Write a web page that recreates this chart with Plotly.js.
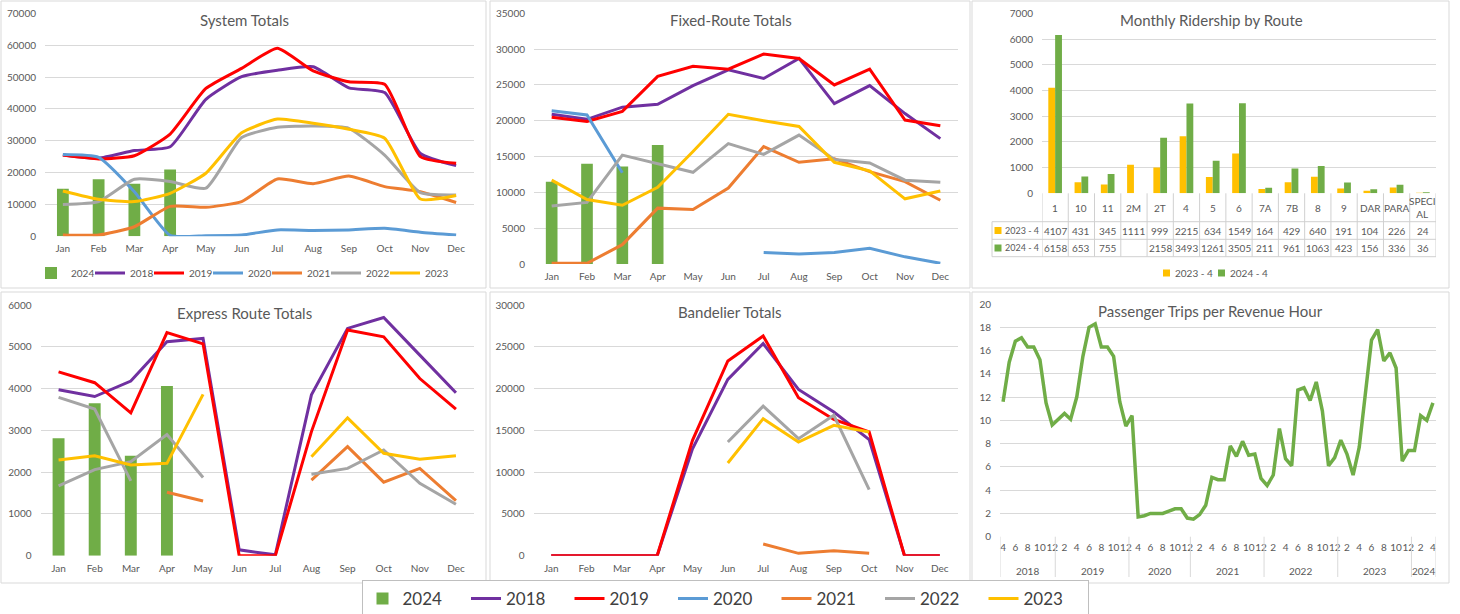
<!DOCTYPE html>
<html><head><meta charset="utf-8">
<script src="https://cdn.plot.ly/plotly-3.0.1.min.js"></script>
<style>html,body{margin:0;padding:0;background:#fff;}#chart{width:1460px;height:614px;}</style>
</head><body><div id="chart"></div>
<script>
// ---------- DATA ----------
const months = ['Jan','Feb','Mar','Apr','May','Jun','Jul','Aug','Sep','Oct','Nov','Dec'];
const months2024 = ['Jan','Feb','Mar','Apr'];

// System Totals
const sys2024 = [14900,17900,16500,21000];
const sys2018 = [25500,24500,26900,28100,43000,50100,52100,53200,46600,45100,26000,22200];
const sys2019 = [25500,24300,25300,32100,46400,52700,59000,51900,48500,47700,25000,22900];
const sys2020 = [25700,24800,14000,300,200,400,2000,1800,2000,2500,1300,400];
const sys2021 = [400,400,3000,9400,9100,10900,18000,16500,18900,15600,14000,10600];
const sys2022 = [10000,10900,17900,17200,15100,31000,34200,34600,33900,25500,13700,13000];
const sys2023 = [14200,11600,10900,13500,19800,32500,36800,35500,33600,30800,11700,12800];

// Fixed-Route Totals
const fix2024 = [11500,14000,13600,16600];
const fix2018 = [20900,20200,21900,22300,24900,27100,25900,28700,22400,24900,21000,17500];
const fix2019 = [20500,19900,21300,26200,27600,27200,29300,28700,25000,27200,20100,19300];
const fix2020 = [21400,20800,12750,null,null,null,1600,1400,1600,2200,1000,100];
const fix2021 = [100,100,2700,7800,7600,10600,16400,14200,14700,12900,11500,8900];
const fix2022 = [8100,8600,15200,14000,12800,16800,15300,18000,14600,14100,11700,11400];
const fix2023 = [11700,9000,8200,10700,15700,20900,20000,19200,14200,13000,9100,10200];

// Express Route Totals
const exp2024 = [2810,3650,2390,4060];
const exp2018 = [3970,3810,4180,5120,5200,140,20,3850,5440,5700,4800,3900];
const exp2019 = [4400,4140,3420,5340,5070,0,0,2970,5400,5240,4240,3510];
const exp2021 = [null,null,null,1520,1310,null,null,1810,2610,1760,2090,1320];
const exp2022 = [1670,2060,2250,2900,1870,null,null,1950,2090,2530,1730,1230];
const expGrayExtra = [3790,3510,1790,null,null,null,null,null,null,null,null,null];
const exp2023 = [2290,2390,2170,2210,3860,null,null,2370,3300,2450,2310,2390];

// Bandelier Totals
const band2018 = [0,0,0,0,12800,21100,25400,19900,17200,13900,0,0];
const band2019 = [0,0,0,0,13800,23300,26300,18900,16300,14800,0,0];
const band2021 = [null,null,null,null,null,null,1400,280,600,280,null,null];
const band2022 = [null,null,null,null,null,13600,17900,14000,16800,7900,null,null];
const band2023 = [null,null,null,null,null,11100,16400,13600,15600,14800,null,null];

// Monthly Ridership by Route
const routes = ['1','10','11','2M','2T','4','5','6','7A','7B','8','9','DAR','PARA','SPECIAL'];
const route2023_4 = [4107,431,345,1111,999,2215,634,1549,164,429,640,191,104,226,24];
const route2024_4 = [6158,653,755,null,2158,3493,1261,3505,211,961,1063,423,156,336,36];
const routeSeriesNames = ['2023 - 4','2024 - 4'];

// Passenger Trips per Revenue Hour
const ptrhYears = ['2018','2018','2018','2018','2018','2018','2018','2018','2018',
  '2019','2019','2019','2019','2019','2019','2019','2019','2019','2019','2019','2019',
  '2020','2020','2020','2020','2020','2020','2020','2020','2020','2020',
  '2021','2021','2021','2021','2021','2021','2021','2021','2021','2021','2021','2021',
  '2022','2022','2022','2022','2022','2022','2022','2022','2022','2022','2022','2022',
  '2023','2023','2023','2023','2023','2023','2023','2023','2023','2023','2023','2023',
  '2024','2024','2024','2024'];
const ptrhMonths = [4,5,6,7,8,9,10,11,12,
  1,2,3,4,5,6,7,8,9,10,11,12,
  3,4,5,6,7,8,9,10,11,12,
  1,2,3,4,5,6,7,8,9,10,11,12,
  1,2,3,4,5,6,7,8,9,10,11,12,
  1,2,3,4,5,6,7,8,9,10,11,12,
  1,2,3,4];
const ptrhValues = [11.6,15.0,16.8,17.1,16.3,16.3,15.2,11.5,9.6,
  10.1,10.6,10.1,12.0,15.5,18.0,18.3,16.3,16.3,15.5,11.6,9.5,
  10.4,1.7,1.8,2.0,2.0,2.0,2.2,2.4,2.4,1.6,
  1.5,1.9,2.7,5.1,4.9,4.9,7.8,6.9,8.2,7.0,7.1,5.0,
  4.4,5.3,9.3,6.7,6.1,12.6,12.8,11.7,13.3,10.8,6.1,6.8,
  8.3,7.1,5.3,7.7,12.3,16.9,17.8,15.1,15.8,14.5,6.5,7.4,
  7.4,10.4,10.0,11.5];

// ---------- STYLE ----------
const W = 1460, H = 614;
const fx = p => p / W, fy = p => 1 - p / H;
const FONT = 'Lato, "Open Sans", sans-serif';
const TXT = '#595959';
const GRID = '#D9D9D9';
const COL = {'2024':'#70AD47','2018':'#7030A0','2019':'#FF0000','2020':'#5B9BD5','2021':'#ED7D31','2022':'#A5A5A5','2023':'#FFC000'};

const traces = [];
function addPanel(n, bar, lines, legendId, showLeg, spline) {
  const xa = n === 1 ? 'x' : 'x' + n, ya = n === 1 ? 'y' : 'y' + n;
  if (bar) traces.push({type:'bar', x: months2024, y: bar, xaxis: xa, yaxis: ya, width: 0.33,
    marker:{color: COL['2024']}, name:'2024', legend: legendId, showlegend: showLeg, hoverinfo:'y'});
  lines.forEach(l => {
    traces.push({type:'scatter', mode:'lines', x: months, y: l.y, xaxis: xa, yaxis: ya,
      line:{color: COL[l.c], width: 3, shape: spline ? 'spline' : 'linear', smoothing: 0.5},
      name: l.name, legend: legendId, showlegend: showLeg, hoverinfo:'y'});
  });
}
addPanel(1, sys2024, [
  {name:'2018', c:'2018', y: sys2018},{name:'2019', c:'2019', y: sys2019},{name:'2020', c:'2020', y: sys2020},
  {name:'2021', c:'2021', y: sys2021},{name:'2022', c:'2022', y: sys2022},{name:'2023', c:'2023', y: sys2023}], 'legend3', true, true);
// invisible spacer entry so the last legend text of panel 1 is not clipped
traces.push({type:'scatter', mode:'lines', x:[null], y:[null], xaxis:'x', yaxis:'y', name:' ',
  line:{color:'rgba(0,0,0,0)', width:0}, legend:'legend3', showlegend:true, hoverinfo:'skip'});
addPanel(2, fix2024, [
  {name:'2018', c:'2018', y: fix2018},{name:'2019', c:'2019', y: fix2019},{name:'2020', c:'2020', y: fix2020},
  {name:'2021', c:'2021', y: fix2021},{name:'2022', c:'2022', y: fix2022},{name:'2023', c:'2023', y: fix2023}], 'legend', true, false);
addPanel(4, exp2024, [
  {name:'2018', c:'2018', y: exp2018},{name:'2019', c:'2019', y: exp2019},
  {name:'2021', c:'2021', y: exp2021},{name:'2022', c:'2022', y: exp2022},{name:'2022', c:'2022', y: expGrayExtra},
  {name:'2023', c:'2023', y: exp2023}], 'legend', false, false);
addPanel(5, null, [
  {name:'2018', c:'2018', y: band2018},{name:'2019', c:'2019', y: band2019},
  {name:'2021', c:'2021', y: band2021},{name:'2022', c:'2022', y: band2022},{name:'2023', c:'2023', y: band2023}], 'legend', false, false);

// Panel 3 bars (index positions on a category axis)
const routeIdx = routes.map((r, i) => i);
traces.push({type:'bar', x: routeIdx, y: route2023_4, xaxis:'x3', yaxis:'y3', width:0.26, offset:-0.26,
  marker:{color: COL['2023']}, name: routeSeriesNames[0], showlegend:false, hoverinfo:'y'});
traces.push({type:'bar', x: routeIdx, y: route2024_4, xaxis:'x3', yaxis:'y3', width:0.26, offset:0,
  marker:{color: COL['2024']}, name: routeSeriesNames[1], showlegend:false, hoverinfo:'y'});

// Panel 6 line
const ptrhX = ptrhValues.map((v, i) => i);
traces.push({type:'scatter', mode:'lines', x: ptrhX, y: ptrhValues, xaxis:'x6', yaxis:'y6',
  line:{color:'#70AD47', width:3.5}, showlegend:false, hoverinfo:'y'});

// ---------- AXES ----------
function xCat(l, r, anchor) {
  return {domain:[fx(l), fx(r)], anchor, type:'category', categoryorder:'array', categoryarray: months,
    range:[-0.5, 11.5], showgrid:false, zeroline:false, showline:false, ticks:'',
    tickfont:{size:10, color:TXT, family:FONT}, ticklabelstandoff:5, fixedrange:true};
}
function yLin(t, b, anchor, max, dtick) {
  return {domain:[fy(b), fy(t)], anchor, range:[0, max], dtick, tick0:0, tickformat:'d', showgrid:true, gridcolor:GRID, gridwidth:1,
    zeroline:false, showline:false, ticks:'', tickfont:{size:10, color:TXT, family:FONT},
    ticklabelstandoff:8, fixedrange:true};
}

const layout = {
  width: W, height: H, margin:{l:0, r:0, t:0, b:0, autoexpand:false},
  paper_bgcolor:'#fff', plot_bgcolor:'rgba(0,0,0,0)', barmode:'overlay',
  font:{family:FONT, color:TXT},
  xaxis: xCat(45, 474, 'y'),   yaxis: yLin(13.3, 236.3, 'x', 70000, 10000),
  xaxis2: xCat(534, 958, 'y2'), yaxis2: yLin(13.3, 264, 'x2', 35000, 5000),
  xaxis3: {domain:[fx(1042), fx(1436)], anchor:'y3', type:'linear',
    range:[-0.5, routes.length - 0.5], showgrid:false, zeroline:false, showline:false, ticks:'', showticklabels:false, fixedrange:true},
  yaxis3: yLin(13.3, 193.3, 'x3', 7000, 1000),
  xaxis4: xCat(40.5, 474, 'y4'), yaxis4: yLin(305, 555.7, 'x4', 6000, 1000),
  xaxis5: xCat(533.5, 957.5, 'y5'), yaxis5: yLin(305, 555.7, 'x5', 30000, 5000),
  xaxis6: {domain:[fx(1000), fx(1436)], anchor:'y6', range:[-0.5, ptrhValues.length - 0.5],
    tickvals: ptrhX.filter(i => i % 2 === 0), ticktext: ptrhX.filter(i => i % 2 === 0).map(i => String(ptrhMonths[i])),
    tickangle:0, showgrid:false, zeroline:false, showline:false, ticks:'', tickfont:{size:10, color:TXT, family:FONT},
    ticklabelstandoff:3, fixedrange:true},
  yaxis6: yLin(304, 536.7, 'x6', 20, 2),
  legend: {orientation:'h', x: fx(725), xanchor:'center', y: fy(599), yanchor:'middle',
    font:{size:17, color:'#404040', family:FONT}, bgcolor:'#fff', bordercolor:'#BFBFBF', borderwidth:1,
    entrywidth:58.5, traceorder:'normal'},
  legend3: {orientation:'h', x: fx(31), xanchor:'left', y: fy(273), yanchor:'middle',
    font:{size:10, color:TXT, family:FONT}, bgcolor:'rgba(0,0,0,0)', entrywidth:14, traceorder:'normal'},
  annotations: [], shapes: []
};

// Titles
[['System Totals',244,20],['Fixed-Route Totals',731,20],['Monthly Ridership by Route',1211,20],
 ['Express Route Totals',244,313],['Bandelier Totals',730,312],['Passenger Trips per Revenue Hour',1210,311]]
.forEach(t => layout.annotations.push({text:t[0], xref:'paper', yref:'paper', x:fx(t[1]), y:fy(t[2]),
  xanchor:'center', yanchor:'middle', showarrow:false, font:{size:15, color:TXT, family:FONT}}));

// Panel borders
[[1,1,486,288],[490,1,970,288],[972,1,1449,288],[1,292,486,583],[490,292,970,583],[972,292,1449,583]]
.forEach(b => layout.shapes.push({type:'rect', xref:'paper', yref:'paper', x0:fx(b[0]), x1:fx(b[2]), y0:fy(b[1]), y1:fy(b[3]),
  line:{color:'#D9D9D9', width:1}, fillcolor:'rgba(0,0,0,0)', layer:'below'}));

// Data table under panel 3
const tRows = [193.3, 221.7, 239.3, 256.7];
const tLeft = 992;
const tLine = {color:'#D0D0D0', width:1};
tRows.slice(1).forEach(r => layout.shapes.push({type:'line', xref:'paper', yref:'paper', x0:fx(tLeft), x1:fx(1436), y0:fy(r), y1:fy(r), line:tLine}));
for (let k = 0; k <= routes.length; k++) {
  layout.shapes.push({type:'line', xref:'x3', yref:'paper', x0:k - 0.5, x1:k - 0.5, y0:fy(tRows[0]), y1:fy(tRows[3]), line:tLine});
}
layout.shapes.push({type:'line', xref:'paper', yref:'paper', x0:fx(tLeft), x1:fx(tLeft), y0:fy(tRows[1]), y1:fy(tRows[3]), line:tLine});
routes.forEach((r, i) => {
  const disp = r.length > 5 ? r.slice(0,5) + '<br>' + r.slice(5) : r;
  layout.annotations.push({text:disp, xref:'x3', yref:'paper', x:i, y:fy(207.5), xanchor:'center', yanchor:'middle',
    showarrow:false, font:{size:10, color:TXT, family:FONT}});
  [[route2023_4, 230.5],[route2024_4, 248]].forEach(rw => {
    if (rw[0][i] !== null) layout.annotations.push({text:String(rw[0][i]), xref:'x3', yref:'paper', x:i, y:fy(rw[1]),
      xanchor:'center', yanchor:'middle', showarrow:false, font:{size:10, color:TXT, family:FONT}});
  });
});
[[routeSeriesNames[0], COL['2023'], 230.5],[routeSeriesNames[1], COL['2024'], 248]].forEach(rw => {
  layout.shapes.push({type:'rect', xref:'paper', yref:'paper', x0:fx(994.5), x1:fx(1001.5), y0:fy(rw[2]-3.5), y1:fy(rw[2]+3.5),
    fillcolor:rw[1], line:{width:0}});
  layout.annotations.push({text:rw[0], xref:'paper', yref:'paper', x:fx(1003), y:fy(rw[2]), xanchor:'left', yanchor:'middle',
    showarrow:false, font:{size:9, color:TXT, family:FONT}});
});
// Panel 3 legend (small square keys)
[[routeSeriesNames[0], COL['2023'], 1163],[routeSeriesNames[1], COL['2024'], 1218]].forEach(lg => {
  layout.shapes.push({type:'rect', xref:'paper', yref:'paper', x0:fx(lg[2]), x1:fx(lg[2]+7), y0:fy(276.5), y1:fy(269.5),
    fillcolor:lg[1], line:{width:0}});
  layout.annotations.push({text:lg[0], xref:'paper', yref:'paper', x:fx(lg[2]+10), y:fy(273), xanchor:'left', yanchor:'middle',
    showarrow:false, font:{size:10, color:TXT, family:FONT}});
});

// Panel 6 multi-level axis: year labels and separators
const yearStarts = [];
ptrhYears.forEach((y, i) => { if (i === 0 || ptrhYears[i-1] !== y) yearStarts.push(i); });
yearStarts.forEach((s, k) => {
  const e = k + 1 < yearStarts.length ? yearStarts[k+1] - 1 : ptrhYears.length - 1;
  layout.annotations.push({text:ptrhYears[s], xref:'x6', yref:'paper', x:(s + e) / 2, y:fy(570.5), xanchor:'center', yanchor:'middle',
    showarrow:false, font:{size:10, color:TXT, family:FONT}});
  layout.shapes.push({type:'line', xref:'x6', yref:'paper', x0:s - 0.5, x1:s - 0.5, y0:fy(536.7), y1:fy(577), line:{color:GRID, width:1}});
});
layout.shapes.push({type:'line', xref:'x6', yref:'paper', x0:ptrhYears.length - 0.5, x1:ptrhYears.length - 0.5, y0:fy(536.7), y1:fy(577), line:{color:GRID, width:1}});

Plotly.newPlot('chart', traces, layout, {displayModeBar:false, staticPlot:true});
</script></body></html>
